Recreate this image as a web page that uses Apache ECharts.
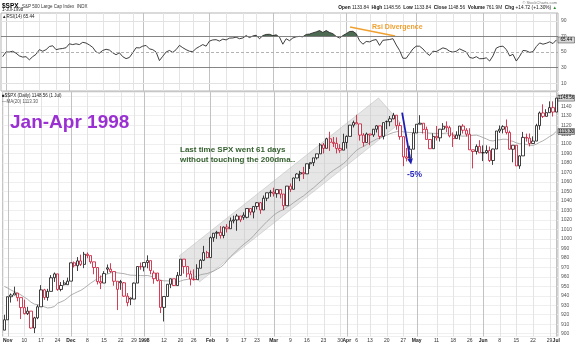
<!DOCTYPE html>
<html><head><meta charset="utf-8">
<script src="https://cdn.jsdelivr.net/npm/echarts@6/dist/echarts.min.js"></script>
<style>html,body{margin:0;padding:0;background:#fff}#c{width:575px;height:343px}</style>
</head><body><div id="c"></div>
<script>
const dates = [
'1997-10-31',
'1997-11-03','1997-11-04','1997-11-05','1997-11-06','1997-11-07','1997-11-10','1997-11-11','1997-11-12','1997-11-13','1997-11-14','1997-11-17','1997-11-18','1997-11-19','1997-11-20','1997-11-21','1997-11-24','1997-11-25','1997-11-26','1997-11-28',
'1997-12-01','1997-12-02','1997-12-03','1997-12-04','1997-12-05','1997-12-08','1997-12-09','1997-12-10','1997-12-11','1997-12-12','1997-12-15','1997-12-16','1997-12-17','1997-12-18','1997-12-19','1997-12-22','1997-12-23','1997-12-24','1997-12-26','1997-12-29','1997-12-30','1997-12-31',
'1998-01-02','1998-01-05','1998-01-06','1998-01-07','1998-01-08','1998-01-09','1998-01-12','1998-01-13','1998-01-14','1998-01-15','1998-01-16','1998-01-20','1998-01-21','1998-01-22','1998-01-23','1998-01-26','1998-01-27','1998-01-28','1998-01-29','1998-01-30',
'1998-02-02','1998-02-03','1998-02-04','1998-02-05','1998-02-06','1998-02-09','1998-02-10','1998-02-11','1998-02-12','1998-02-13','1998-02-17','1998-02-18','1998-02-19','1998-02-20','1998-02-23','1998-02-24','1998-02-25','1998-02-26','1998-02-27',
'1998-03-02','1998-03-03','1998-03-04','1998-03-05','1998-03-06','1998-03-09','1998-03-10','1998-03-11','1998-03-12','1998-03-13','1998-03-16','1998-03-17','1998-03-18','1998-03-19','1998-03-20','1998-03-23','1998-03-24','1998-03-25','1998-03-26','1998-03-27','1998-03-30','1998-03-31',
'1998-04-01','1998-04-02','1998-04-03','1998-04-06','1998-04-07','1998-04-08','1998-04-09','1998-04-13','1998-04-14','1998-04-15','1998-04-16','1998-04-17','1998-04-20','1998-04-21','1998-04-22','1998-04-23','1998-04-24','1998-04-27','1998-04-28','1998-04-29','1998-04-30',
'1998-05-01','1998-05-04','1998-05-05','1998-05-06','1998-05-07','1998-05-08','1998-05-11','1998-05-12','1998-05-13','1998-05-14','1998-05-15','1998-05-18','1998-05-19','1998-05-20','1998-05-21','1998-05-22','1998-05-26','1998-05-27','1998-05-28','1998-05-29',
'1998-06-01','1998-06-02','1998-06-03','1998-06-04','1998-06-05','1998-06-08','1998-06-09','1998-06-10','1998-06-11','1998-06-12','1998-06-15','1998-06-16','1998-06-17','1998-06-18','1998-06-19','1998-06-22','1998-06-23','1998-06-24','1998-06-25','1998-06-26','1998-06-29','1998-06-30',
'1998-07-01'];

const opens = [903.68,
914.62,938.99,940.76,942.76,938.03,927.51,921.13,923.78,905.96,916.66,928.35,946.20,938.23,944.59,958.98,963.09,946.67,953.50,951.64,
955.40,974.77,971.68,976.77,973.10,983.79,982.37,975.78,969.79,954.94,953.39,969.50,968.04,965.54,955.30,955.00,953.70,939.55,937.60,936.46,953.35,970.84,
970.43,975.04,977.07,958.00,964.00,956.05,927.69,939.21,952.12,957.94,950.73,961.51,978.60,970.81,963.04,957.59,956.95,969.02,977.46,985.49,
980.28,1001.27,1006.00,1006.90,1003.54,1012.46,1010.74,1019.01,1020.01,1024.14,1025.00,1022.76,1032.08,1028.28,1034.21,1038.14,1030.56,1042.90,1048.67,
1049.34,1047.70,1052.02,1047.33,1035.05,1055.69,1052.31,1064.25,1068.47,1069.92,1068.61,1079.27,1080.45,1085.52,1089.74,1099.16,1095.55,1105.65,1101.93,1100.80,1095.44,1093.60,
1101.75,1108.15,1120.01,1122.70,1121.38,1109.55,1101.65,1110.67,1109.69,1115.75,1119.32,1108.17,1124.00,1123.65,1126.67,1130.54,1119.58,1107.90,1086.54,1085.11,1094.63,
1111.75,1121.00,1122.07,1115.50,1104.92,1095.14,1108.14,1106.64,1115.79,1118.86,1117.37,1108.73,1105.82,1109.52,1119.06,1114.64,1110.47,1094.02,1092.23,1097.60,
1090.82,1090.98,1093.22,1082.73,1094.83,1113.86,1115.72,1118.41,1112.28,1094.58,1098.84,1077.01,1087.59,1107.11,1106.37,1100.65,1103.21,1119.49,1132.88,1129.28,1133.20,1138.49,
1133.84];

const highs = [919.93,
939.02,942.41,949.62,942.85,938.03,935.90,928.29,923.88,917.79,930.44,951.22,947.28,947.28,961.83,964.55,963.09,954.47,956.47,959.13,
974.77,976.20,980.81,983.36,986.25,985.67,982.37,975.78,969.79,961.32,965.96,973.00,974.30,965.54,955.30,956.73,954.51,942.88,938.00,953.95,970.84,975.02,
975.04,982.63,977.07,966.58,964.00,956.05,939.25,952.14,958.12,957.94,965.00,978.60,978.60,970.81,966.44,967.88,973.23,978.63,992.65,987.41,
1002.48,1006.13,1008.53,1013.51,1013.07,1015.59,1022.55,1024.51,1026.30,1024.14,1028.02,1032.08,1032.08,1034.21,1038.69,1038.73,1045.79,1048.68,1051.66,
1053.98,1052.02,1052.02,1047.33,1055.69,1058.49,1064.59,1069.18,1071.87,1075.96,1079.46,1080.45,1085.52,1089.74,1101.11,1101.16,1106.75,1113.07,1107.50,1107.14,1099.98,1110.96,
1109.19,1120.01,1124.81,1131.00,1121.38,1111.60,1112.21,1110.67,1115.94,1119.90,1119.32,1122.72,1124.82,1129.65,1132.98,1130.54,1122.81,1107.90,1095.94,1098.32,1116.97,
1121.02,1130.52,1122.07,1118.45,1105.23,1111.42,1119.13,1115.96,1122.22,1124.03,1119.34,1112.40,1113.52,1119.08,1121.06,1116.89,1116.79,1094.02,1099.73,1104.16,
1098.70,1098.71,1097.43,1095.14,1113.88,1119.70,1119.92,1126.00,1114.20,1098.84,1098.84,1088.25,1112.87,1111.06,1111.24,1108.19,1121.46,1134.40,1142.04,1136.83,1145.15,1145.17,
1148.56];

const lows = [903.68,
914.62,932.83,940.76,934.16,915.39,920.26,919.63,905.34,900.61,915.27,928.35,935.63,934.83,944.59,954.60,945.22,944.71,950.82,951.64,
955.40,969.83,966.16,971.37,969.10,979.57,973.81,962.68,951.89,947.00,953.39,963.39,964.25,950.55,924.92,946.25,938.91,928.90,930.07,936.46,953.35,967.41,
965.73,969.00,962.68,952.67,955.04,921.72,912.83,939.21,948.00,950.27,950.73,961.48,963.29,959.49,950.86,956.07,956.95,969.02,976.60,979.63,
980.28,996.90,1000.11,1000.27,1000.65,1006.76,1010.74,1016.41,1008.56,1017.71,1020.09,1021.70,1025.00,1021.64,1031.04,1026.42,1030.56,1039.85,1044.40,
1044.70,1043.41,1042.74,1030.57,1035.05,1049.44,1052.31,1064.22,1060.91,1063.22,1068.61,1073.76,1076.88,1083.74,1089.74,1090.16,1095.55,1092.81,1097.00,1090.20,1090.80,1093.60,
1095.29,1108.15,1117.59,1121.38,1103.70,1097.41,1101.65,1098.92,1107.61,1112.24,1105.27,1104.95,1115.79,1118.89,1126.29,1115.13,1104.65,1076.70,1081.70,1085.11,1094.63,
1111.75,1121.00,1111.16,1104.85,1094.93,1095.14,1103.72,1102.78,1114.93,1112.74,1107.13,1097.00,1105.82,1104.64,1111.16,1107.99,1094.01,1074.39,1089.06,1090.82,
1082.11,1089.67,1081.09,1078.10,1094.83,1111.74,1111.31,1110.27,1094.29,1080.83,1077.01,1073.91,1087.58,1102.64,1097.57,1100.65,1103.21,1115.10,1127.60,1129.28,1133.20,1129.11,
1133.84];

const closes = [914.62,
938.99,940.76,942.76,938.03,927.51,921.13,923.78,905.96,916.66,928.35,946.20,938.23,944.59,958.98,963.09,946.67,950.82,951.64,955.40,
974.77,971.68,976.77,973.10,983.79,982.37,975.78,969.79,954.94,953.39,963.39,968.04,965.54,955.30,946.78,953.70,939.55,932.70,936.46,953.35,970.84,970.43,
975.04,977.07,966.58,964.00,956.05,927.69,939.21,952.12,957.94,950.73,961.51,978.60,970.81,963.04,957.59,956.95,969.02,977.46,985.49,980.28,
1001.27,1006.00,1006.90,1003.54,1012.46,1010.74,1019.01,1020.01,1024.14,1020.09,1022.76,1032.08,1028.28,1034.21,1038.14,1030.56,1042.90,1048.67,1049.34,
1047.70,1052.02,1047.33,1035.05,1055.69,1052.31,1064.25,1068.47,1069.92,1068.61,1079.27,1080.45,1085.52,1089.74,1099.16,1095.55,1105.65,1101.93,1100.80,1095.44,1093.60,1101.75,
1108.15,1120.01,1122.70,1121.38,1109.55,1101.65,1110.67,1109.69,1115.75,1119.32,1108.17,1122.72,1123.65,1126.67,1130.54,1119.58,1107.90,1086.54,1085.11,1094.63,1111.75,
1121.00,1122.07,1115.50,1104.92,1095.14,1108.14,1106.64,1115.79,1118.86,1117.37,1108.73,1105.82,1109.52,1119.06,1114.64,1110.47,1094.02,1092.23,1097.60,1090.82,
1090.98,1093.22,1082.73,1094.83,1113.86,1115.72,1118.41,1112.28,1094.58,1098.84,1077.01,1087.59,1107.11,1106.37,1100.65,1103.21,1119.49,1132.88,1129.28,1133.20,1138.49,1133.84,
1148.56];

const ma20 = [949.8,948.1,946.0,944.4,942.8,940.8,938.5,936.2,933.2,931.2,930.5,930.0,928.3,927.1,927.5,928.6,932.1,933.5,935.1,937.7,
940.7,942.4,944.2,945.7,948.0,950.7,953.4,955.7,958.2,960.0,961.8,962.9,964.2,964.8,964.2,963.7,963.3,962.4,961.7,961.6,961.4,961.3,
961.2,961.4,960.6,959.6,958.6,956.5,955.7,955.7,955.4,954.5,954.3,955.5,956.7,957.2,958.1,959.3,960.9,962.1,962.9,963.4,
964.7,966.1,968.1,970.1,972.9,977.1,981.1,984.5,987.8,991.2,994.3,997.0,999.8,1003.4,1007.4,1011.1,1014.8,1018.4,1021.6,
1024.9,1027.5,1029.5,1030.9,1033.6,1035.5,1038.2,1040.7,1043.2,1045.4,1048.4,1051.3,1053.9,1057.0,1060.2,1063.1,1066.9,1069.8,1072.4,1074.7,1077.0,1079.5,
1082.6,1086.8,1090.2,1093.6,1095.9,1097.5,1099.6,1101.6,1103.5,1105.4,1106.5,1108.2,1109.4,1111.0,1112.2,1113.1,1113.4,1113.0,1112.6,1112.2,1112.4,
1112.4,1112.4,1112.1,1111.9,1111.6,1111.4,1111.3,1111.3,1111.3,1111.7,1111.0,1110.1,1109.3,1108.7,1108.4,1108.6,1108.9,1109.3,1109.5,1108.4,
1106.9,1105.5,1103.8,1103.3,1104.3,1104.6,1105.2,1105.1,1103.8,1102.9,1101.3,1100.4,1100.3,1099.7,1099.0,1098.6,1099.9,1101.9,1103.5,1105.6,1108.0,1110.0,
1113.3];

const rsi14 = [44,50,50,51,48.5,45,43.5,44,40,44,47,53,51,53,57,58,53,54,54.5,55.5,
60.5,59.5,60.5,59.5,62.4,61.5,59,56,50,48.5,52,53.5,52.5,49,46.5,49,44,41.5,43,49,55.5,55.3,
57.5,58.4,54,53,50,39,44.5,50,52,49.5,53,58.5,55.5,53,51,50.5,54.5,57,59.5,57.5,
64,65.5,65.8,64,66.5,65.5,67.8,68,69,67,68,71,68.5,70.5,71.5,67,71,72.5,72.7,
71,72,69,60,67,64.5,68,69.5,70,69.5,72.5,73,74.5,75.8,77.5,75,77.5,75,73.5,70,68,71,
73.5,76.3,76.5,73.5,64.5,60,63.5,63,65,66,58.5,65,65.5,66,67.1,59,52,42,42,48,54,
57.5,57.4,54,49,45.6,51,50.5,53,55.3,54,51,49.8,51,54,52,50,43,42,44,41.4,
41.5,42.5,38.4,45,55,57,57.4,53.2,45,47,38.4,44.5,52,51.5,49.5,50.5,57,61.6,60,61.2,63,60.8,
65.44];

const tickLabels = [['1997-11-03','Nov'],['1997-11-10','10'],['1997-11-17','17'],['1997-11-24','24'],['1997-12-01','Dec'],['1997-12-08','8'],['1997-12-15','15'],['1997-12-22','22'],['1997-12-29','29'],['1998-01-02','1998'],['1998-01-12','12'],['1998-01-20','20'],['1998-01-26','26'],['1998-02-02','Feb'],['1998-02-09','9'],['1998-02-17','17'],['1998-02-23','23'],['1998-03-02','Mar'],['1998-03-09','9'],['1998-03-16','16'],['1998-03-23','23'],['1998-03-30','30'],['1998-04-01','Apr'],['1998-04-06','6'],['1998-04-13','13'],['1998-04-20','20'],['1998-04-27','27'],['1998-05-01','May'],['1998-05-11','11'],['1998-05-18','18'],['1998-05-26','26'],['1998-06-01','Jun'],['1998-06-08','8'],['1998-06-15','15'],['1998-06-22','22'],['1998-06-29','29'],['1998-07-01','Jul']];
const monthLabels = ['Nov','Dec','1998','Feb','Mar','Apr','May','Jun','Jul'];
const rsiTickLabels = [10,30,50,70,90];
const rsiOverbought = 70;

// annotations in data coordinates: [category index, value]
const channelCorners = [[52.57,981.95],[112.54,1148.7],[119.14,1122.5],[58.72,954.7]];
const dropArrow = [[119.65,1133.3],[122.35,1078.4]];
const divergenceLine = [[104.15,82.05],[117.64,70.5]];

const FONT = '"Liberation Sans", Arial, Helvetica, sans-serif';
const RED = '#c8102e';
const labelMap = {}; tickLabels.forEach(t => labelMap[t[0]] = t[1]);

const candleData = dates.map((d, i) => {
  const o = opens[i], c = closes[i], l = lows[i], h = highs[i];
  const prev = i > 0 ? closes[i - 1] : o;
  const col = c >= prev ? '#111' : RED;
  return {value: [o, c, l, h], itemStyle: {color: '#fff', color0: col, borderColor: col, borderColor0: col, borderColorDoji: col}};
});

function fx(api, v, p) {
  const i = Math.floor(v), f = v - i;
  const a = api.coord([i, p]), b = api.coord([i + 1, p]);
  return [a[0] + (b[0] - a[0]) * f, a[1]];
}
function vLines(xi, yi) {
  return {
    type: 'custom', xAxisIndex: xi, yAxisIndex: yi, silent: true, z: 0, clip: false,
    data: tickLabels.map(t => [t[0], 50, monthLabels.indexOf(t[1]) >= 0 ? 1 : 0]),
    encode: {x: 0, y: 1},
    renderItem: (params, api) => {
      const cs = params.coordSys;
      const x = Math.round(api.coord([api.value(0), 50])[0]) + 0.5;
      return {type: 'line', shape: {x1: x, y1: cs.y, x2: x, y2: cs.y + cs.height},
        style: {stroke: api.value(2) ? '#c2c2c2' : '#e4e4e4', lineWidth: 1}};
    }
  };
}

const chart = echarts.init(document.getElementById('c'), null, {renderer: 'canvas', width: 575, height: 343});

const option = {
  animation: false,
  backgroundColor: '#fff',
  textStyle: {fontFamily: FONT},
  grid: [
    {left: 1, right: 17, top: 13, height: 78, show: true, borderColor: '#b5b5b5', borderWidth: 1},
    {left: 1, right: 17, top: 92, height: 246, show: true, borderColor: '#b5b5b5', borderWidth: 1}
  ],
  xAxis: [
    {type: 'category', gridIndex: 0, data: dates, boundaryGap: true,
      axisLine: {show: false}, axisTick: {show: false}, axisLabel: {show: false}, splitLine: {show: false}},
    {type: 'category', gridIndex: 1, data: dates, boundaryGap: true,
      axisLine: {show: false}, axisTick: {show: false}, splitLine: {show: false},
      axisLabel: {
        interval: (idx, val) => labelMap[val] !== undefined,
        formatter: (val) => { const t = labelMap[val]; if (t === undefined) return ''; return monthLabels.indexOf(t) >= 0 ? '{b|' + t + '}' : t; },
        fontSize: 5, color: '#333', margin: 1.5, fontFamily: FONT,
        rich: {b: {fontSize: 5, fontWeight: 'bold', color: '#222', fontFamily: FONT}}
      }}
  ],
  yAxis: [
    {type: 'value', gridIndex: 0, min: 0, max: 100, interval: 10, position: 'right',
      axisLine: {show: false}, axisTick: {show: false}, splitLine: {show: false},
      axisLabel: {fontSize: 5, color: '#555', margin: 3, fontFamily: FONT,
        formatter: v => rsiTickLabels.indexOf(v) >= 0 ? String(v) : ''}},
    {type: 'value', gridIndex: 1, min: 897, max: 1155, splitNumber: 26, position: 'right',
      axisLine: {show: false}, axisTick: {show: false},
      splitLine: {show: true, lineStyle: {color: '#efefef', width: 1}},
      axisLabel: {fontSize: 5, color: '#555', margin: 3, fontFamily: FONT, showMinLabel: false, showMaxLabel: false,
        formatter: v => (Math.abs(v % 10) < 1e-6 ? String(v) : '')}}
  ],
  series: [
    vLines(0, 0),
    {type: 'custom', name: 'rsiFill', xAxisIndex: 0, yAxisIndex: 0, silent: true, z: 1, clip: false,
      data: [[0, 50]],
      renderItem: (params, api) => {
        const n = rsi14.length, L = rsiOverbought;
        const polys = []; let cur = null;
        for (let i = 0; i < n; i++) {
          const v = rsi14[i];
          if (i > 0) {
            const pv = rsi14[i - 1];
            if ((pv > L) !== (v > L)) {
              const t = (L - pv) / (v - pv);
              const pt = fx(api, i - 1 + t, L);
              if (cur) { cur.push(pt); polys.push(cur); cur = null; } else { cur = [pt]; }
            }
          }
          if (v > L) { if (!cur) cur = [fx(api, i, L)]; cur.push(api.coord([i, v])); }
        }
        if (cur) { cur.push(fx(api, n - 1, L)); polys.push(cur); }
        return {type: 'group', children: polys.map(p => ({type: 'polygon', shape: {points: p}, style: {fill: '#4d6b52'}}))};
      }},
    {type: 'line', name: 'RSI(14)', xAxisIndex: 0, yAxisIndex: 0, data: rsi14, symbol: 'none', z: 3,
      lineStyle: {color: '#2a2a2a', width: 0.9},
      markLine: {silent: true, symbol: 'none', label: {show: false},
        data: [
          {yAxis: 90, lineStyle: {color: '#e2e2e2', width: 1, type: 'solid'}},
          {yAxis: 10, lineStyle: {color: '#e2e2e2', width: 1, type: 'solid'}},
          {yAxis: 70, lineStyle: {color: '#777', width: 0.9, type: 'solid'}},
          {yAxis: 30, lineStyle: {color: '#777', width: 0.9, type: 'solid'}},
          {yAxis: 50, lineStyle: {color: '#aaa', width: 0.9, type: [3, 2]}}
        ]}},
    {type: 'custom', xAxisIndex: 0, yAxisIndex: 0, silent: true, z: 4, clip: false,
      data: [[0, 50]],
      renderItem: (params, api) => {
        const a = fx(api, divergenceLine[0][0], divergenceLine[0][1]);
        const b = fx(api, divergenceLine[1][0], divergenceLine[1][1]);
        return {type: 'line', shape: {x1: a[0], y1: a[1], x2: b[0], y2: b[1]}, style: {stroke: '#f0a030', lineWidth: 1.4}};
      }},
    vLines(1, 1),
    {type: 'custom', xAxisIndex: 1, yAxisIndex: 1, silent: true, z: 1, clip: false,
      data: [[0, 1000]],
      renderItem: (params, api) => ({
        type: 'polygon',
        shape: {points: channelCorners.map(p => fx(api, p[0], p[1]))},
        style: {fill: 'rgba(185,185,185,0.36)', stroke: 'rgba(170,170,170,0.5)', lineWidth: 0.8}
      })},
    {type: 'line', name: 'MA(20)', xAxisIndex: 1, yAxisIndex: 1, data: ma20, symbol: 'none', z: 2,
      lineStyle: {color: '#9a9a9a', width: 0.8}},
    {type: 'candlestick', name: '$SPX', xAxisIndex: 1, yAxisIndex: 1, data: candleData, barWidth: 2.8, z: 3,
      itemStyle: {borderWidth: 0.8}},
    {type: 'custom', xAxisIndex: 1, yAxisIndex: 1, silent: true, z: 5, clip: false,
      data: [[0, 1000]],
      renderItem: (params, api) => {
        const a = fx(api, dropArrow[0][0], dropArrow[0][1]);
        const b = fx(api, dropArrow[1][0], dropArrow[1][1]);
        const dx = b[0] - a[0], dy = b[1] - a[1], L = Math.sqrt(dx * dx + dy * dy);
        const ux = dx / L, uy = dy / L, nx = -uy, ny = ux;
        const hl = 6, hw = 2.8;
        const bx = b[0] - ux * hl, by = b[1] - uy * hl;
        return {type: 'group', children: [
          {type: 'line', shape: {x1: a[0], y1: a[1], x2: bx, y2: by}, style: {stroke: '#1f1fb4', lineWidth: 1.8}},
          {type: 'polygon', shape: {points: [[b[0], b[1]], [bx + nx * hw, by + ny * hw], [bx - nx * hw, by - ny * hw]]}, style: {fill: '#1f1fb4'}}
        ]};
      }}
  ]
};
chart.setOption(option);

const last = closes.length - 1;
const yPrice = chart.convertToPixel({yAxisIndex: 1}, closes[last]);
const yMa = chart.convertToPixel({yAxisIndex: 1}, ma20[last]);
const yRsi = chart.convertToPixel({yAxisIndex: 0}, rsi14[last]);

function tag(y, text, fill) {
  return [
    {type: 'rect', shape: {x: 558, y: y - 3, width: 16.5, height: 6}, style: {fill: fill, stroke: '#333', lineWidth: 0.5}, z: 20},
    {type: 'text', style: {x: 566.2, y: y, text: text, fill: '#000', fontSize: 4.6, fontFamily: FONT, textAlign: 'center', textVerticalAlign: 'middle'}, z: 21}
  ];
}

chart.setOption({graphic: [
  {type: 'text', style: {x: 2, y: 0.5, text: '{a|$SPX} {b|S&P 500 Large Cap Index  INDX}', textVerticalAlign: 'top',
    rich: {a: {fontSize: 6.5, fontWeight: 'bold', fill: '#000', fontFamily: FONT}, b: {fontSize: 4.5, fill: '#333', fontFamily: FONT}}}},
  {type: 'text', style: {x: 2, y: 7.5, text: '1-Jul-1998', fontSize: 4.5, fill: '#333', fontFamily: FONT, textVerticalAlign: 'top'}},
  {type: 'text', style: {x: 2, y: 13.8, text: '\u25B2RSI(14) 65.44', fontSize: 4.5, fill: '#222', fontFamily: FONT, textVerticalAlign: 'top'}},
  {type: 'text', style: {x: 557, y: 0.5, text: '\u00A9 StockCharts.com', fontSize: 4, fill: '#777', fontFamily: FONT, textAlign: 'right', textVerticalAlign: 'top'}},
  {type: 'text', style: {x: 557, y: 5, textAlign: 'right', textVerticalAlign: 'top',
    text: '{b|Open} 1133.84  {b|High} 1148.56  {b|Low} 1133.84  {b|Close} 1148.56  {b|Volume} 761.9M  {b|Chg} +14.72 (+1.30%) {g|\u25B2}',
    rich: {b: {fontSize: 4.8, fontWeight: 'bold', fill: '#111', fontFamily: FONT}, g: {fontSize: 4.5, fill: '#2a8a2a'}},
    fontSize: 4.8, fill: '#222', fontFamily: FONT}},
  {type: 'text', style: {x: 2, y: 93.5, text: '\u25A0$SPX (Daily) 1148.56 (1 Jul)', fontSize: 4.5, fill: '#222', fontFamily: FONT, textVerticalAlign: 'top'}, z: 10},
  {type: 'text', style: {x: 2, y: 99, text: '\u2014MA(20) 1113.30', fontSize: 4.5, fill: '#555', fontFamily: FONT, textVerticalAlign: 'top'}, z: 10},
  {type: 'text', style: {x: 10, y: 122.5, text: 'Jan-Apr 1998', fontSize: 19, fontWeight: 'bold', fill: '#9a2fd2', fontFamily: FONT, textVerticalAlign: 'middle'}, z: 10},
  {type: 'text', style: {x: 180, y: 150, text: 'Last time SPX went 61 days', fontSize: 8, fontWeight: 'bold', fill: '#35602f', fontFamily: FONT, textVerticalAlign: 'middle'}, z: 10},
  {type: 'text', style: {x: 180, y: 159.5, text: 'without touching the 200dma..', fontSize: 8, fontWeight: 'bold', fill: '#35602f', fontFamily: FONT, textVerticalAlign: 'middle'}, z: 10},
  {type: 'text', style: {x: 414.5, y: 175, text: '-5%', fontSize: 8.5, fontWeight: 'bold', fill: '#2b2bc0', fontFamily: FONT, textAlign: 'center', textVerticalAlign: 'middle'}, z: 10},
  {type: 'text', style: {x: 372, y: 27, text: 'Rsi Divergence', fontSize: 7, fontWeight: 'bold', fill: '#f0a030', fontFamily: FONT, textVerticalAlign: 'middle'}, z: 10}
].concat(tag(yPrice, closes[last].toFixed(2), '#d6d6d6'), tag(yMa, ma20[last].toFixed(2), '#bdbdbd'), tag(yRsi, rsi14[last].toFixed(2), '#d6d6d6'))});
</script>
</body></html>
